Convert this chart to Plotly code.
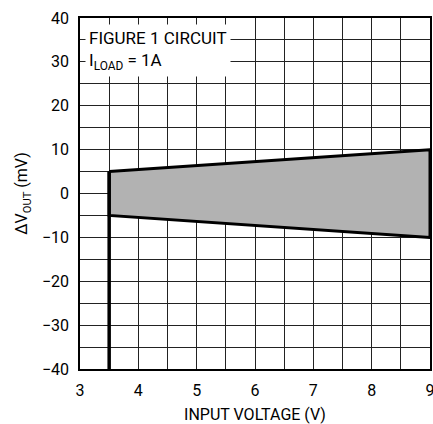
import plotly.graph_objects as go

# Data
vin_band = [3.5, 9.0]          # input voltage range of the band (V)
upper_mv = [5.0, 10.0]         # upper limit of ΔVOUT (mV)
lower_mv = [-5.0, -10.0]       # lower limit of ΔVOUT (mV)
dropout_vin = [3.5, 3.5]       # vertical drop line at 3.5 V
dropout_mv = [-40.0, 5.0]
x_ticks = [3, 4, 5, 6, 7, 8, 9]
y_ticks = [-40, -30, -20, -10, 0, 10, 20, 30, 40]

FONT = "Roboto, Liberation Sans Narrow, Arial, sans-serif"
FS = 16

fig = go.Figure()

# shaded band
fig.add_trace(go.Scatter(
    x=[vin_band[0], vin_band[1], vin_band[1], vin_band[0], vin_band[0]],
    y=[upper_mv[0], upper_mv[1], lower_mv[1], lower_mv[0], upper_mv[0]],
    mode="lines", fill="toself", fillcolor="#b2b2b2",
    line=dict(color="black", width=3), hoverinfo="skip", showlegend=False,
    cliponaxis=False,
))
# dropout line
fig.add_trace(go.Scatter(
    x=dropout_vin, y=dropout_mv, mode="lines",
    line=dict(color="black", width=3.5), showlegend=False, hoverinfo="skip",
))

fig.add_annotation(
    x=3.085, y=38.6, xref="x", yref="y", xanchor="left", yanchor="top",
    text="FIGURE 1 CIRCUIT<br>I<sub>LOAD</sub> = 1A",
    showarrow=False, align="left", bgcolor="white", borderpad=3,
    font=dict(family=FONT, size=FS + 1, color="black"),
)

axis_common = dict(
    showline=True, linecolor="black", linewidth=1.5, mirror=True,
    showgrid=True, gridcolor="#222", gridwidth=1,
    ticks="", zeroline=False, automargin=False, ticklabeloverflow="allow",
    tickfont=dict(family=FONT, size=FS, color="black"),
)

fig.update_xaxes(
    range=[3, 9], tickvals=x_ticks, ticklabelstandoff=6,
    minor=dict(dtick=0.5, showgrid=True, gridcolor="#222", gridwidth=1),
    title=dict(text="INPUT VOLTAGE (V)", font=dict(family=FONT, size=FS, color="black"), standoff=10),
    **axis_common,
)
fig.update_yaxes(
    range=[-40, 40], tickvals=y_ticks, ticklabelstandoff=6,
    minor=dict(dtick=5, showgrid=True, gridcolor="#222", gridwidth=1),
    title=dict(text="ΔV<sub>OUT</sub> (mV)", font=dict(family=FONT, size=FS, color="black"), standoff=10),
    **axis_common,
)

fig.update_layout(
    width=433, height=424,
    margin=dict(l=80, r=3, t=18, b=55),
    plot_bgcolor="white", paper_bgcolor="white",
    showlegend=False,
)

fig.write_html(
    "out.html",
    config={"displayModeBar": False},
    post_script="document.body.style.margin='0';document.body.style.overflow='hidden';",
)
